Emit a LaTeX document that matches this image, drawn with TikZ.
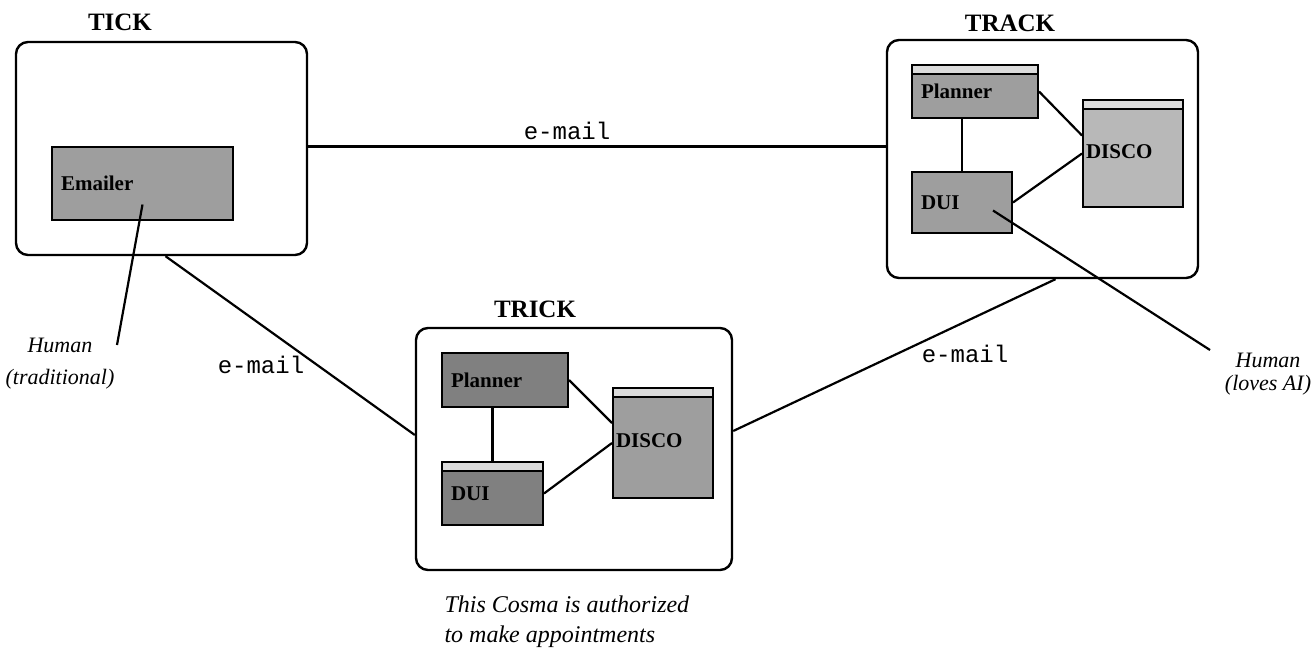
\documentclass[tikz,border=0pt]{standalone}
\usepackage{fontspec}
\setmainfont{Liberation Serif}
\setmonofont{Liberation Mono}
\usetikzlibrary{calc}
\begin{document}
\begin{tikzpicture}[x=1pt,y=-1pt,
  host/.style={draw, line width=2.4pt, rounded corners=12pt},
  comp/.style={draw, line width=2pt, inner ysep=0pt, inner xsep=9pt, align=left,
     font=\fontsize{21}{23}\selectfont\bfseries},
  lite/.style={fill=black!28},
  mid/.style={fill=black!38},
  dark/.style={fill=black!50},
  hdr/.style={path picture={
     \fill[black!14] (path picture bounding box.north west) rectangle ([yshift=-9pt]path picture bounding box.north east);
     \draw[line width=1.2pt] ([yshift=-9pt]path picture bounding box.north west) -- ([yshift=-9pt]path picture bounding box.north east);}},
  ttl/.style={font=\fontsize{25}{28}\selectfont\bfseries},
  mail/.style={font=\fontsize{24}{26}\selectfont\ttfamily},
  note/.style={font=\fontsize{22}{23}\selectfont\itshape, align=center},
  wire/.style={line width=2.2pt}]
\useasboundingbox (0,0) rectangle (1314,650);

% hosts
\node[host, minimum width=291pt, minimum height=213pt] (tick) at (161.5,148.5) {};
\node[host, minimum width=311pt, minimum height=238pt] (track) at (1042.5,159) {};
\node[host, minimum width=316pt, minimum height=242pt] (trick) at (574,449) {};

\node[ttl] (tickl) at (120,22) {TICK};
\node[ttl] (trackl) at (1010,23) {TRACK};
\node[ttl] (trickl) at (535,309) {TRICK};

% TICK
\node[comp, mid, minimum width=181pt, minimum height=73pt, text width=163pt] (emailer) at (142.5,183.5) {Emailer};

% TRACK
\node[comp, mid, hdr, minimum width=126pt, minimum height=53pt, text width=108pt] (tplan) at (975,91.5) {\raisebox{-4pt}{Planner}};
\node[comp, lite, hdr, minimum width=100pt, minimum height=107pt, text width=94pt, inner xsep=3pt] (tdisco) at (1133,153.5) {\raisebox{4pt}{DISCO}};
\node[comp, mid, minimum width=100pt, minimum height=61pt, text width=82pt] (tdui) at (962,202.5) {\raisebox{-8pt}{DUI}};

% TRICK
\node[comp, dark, minimum width=126pt, minimum height=54pt, text width=108pt] (kplan) at (505,380) {Planner};
\node[comp, dark, hdr, minimum width=101pt, minimum height=63pt, text width=83pt] (kdui) at (492.5,493.5) {\raisebox{-4pt}{DUI}};
\node[comp, mid, hdr, minimum width=100pt, minimum height=110pt, text width=94pt, inner xsep=3pt] (kdisco) at (663,443) {\raisebox{5pt}{DISCO}};

% internal links
\draw[wire] (tdui.north) -- (tdui.north |- tplan.south);
\draw[wire] (tplan.east) -- ([yshift=18pt]tdisco.west);
\draw[wire] (tdui.east) -- (tdisco.west);
\draw[wire] (kdui.north) -- (kdui.north |- kplan.south);
\draw[wire] (kplan.east) -- ([yshift=20pt]kdisco.west);
\draw[wire] (kdui.east) -- (kdisco.west);

% e-mail links
\draw[wire] ([yshift=2pt]tick.east) -- ([yshift=2pt]tick.east -| track.west);
\draw[wire] ([xshift=4pt]tick.south) -- ([yshift=14pt]trick.west);
\draw[wire] ([yshift=18pt]trick.east) -- ([xshift=13pt]track.south);
\node[mail] (m1) at (567,131) {e-mail};
\node[mail] (m2) at (261,365) {e-mail};
\node[mail] (m3) at (965,354) {e-mail};

% humans
\coordinate (h1end) at (117,345);
\coordinate (h2end) at (1210,350);
\draw[wire] ($(emailer.center)+(0,21)$) -- (h1end);
\draw[wire] ($(tdui.center)+(31,8)$) -- (h2end);
\node[note, font=\fontsize{22}{32}\selectfont\itshape] (h1) at (60,364) {Human\\(traditional)};
\node[note] (h2) at (1268,374) {Human\\(loves AI)};

\node[note, align=left, anchor=north west, font=\fontsize{24}{30}\selectfont\itshape] (cap) at (441,592) {This Cosma is authorized\\to make appointments};
\end{tikzpicture}
\end{document}
